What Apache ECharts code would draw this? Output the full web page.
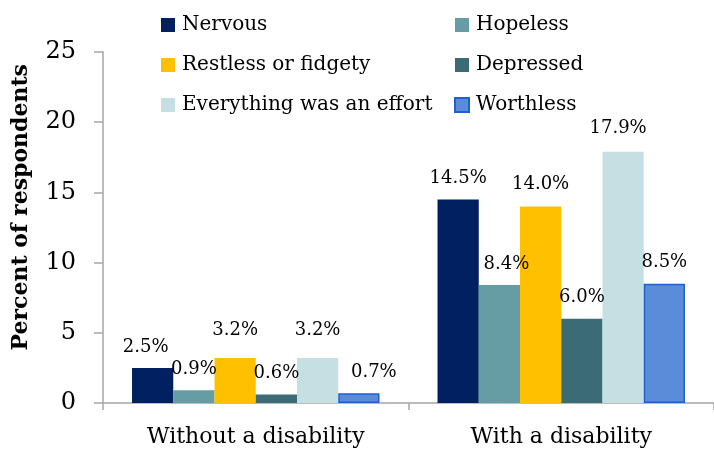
<!DOCTYPE html>
<html>
<head>
<meta charset="utf-8">
<script src="https://cdn.jsdelivr.net/npm/echarts@6/dist/echarts.min.js"></script>
<style>
  html, body { margin: 0; padding: 0; background: #fff; }
  #main { width: 714px; height: 449px; }
</style>
</head>
<body>
<div id="main"></div>
<script>
// 数据
let categories = ['Without a disability', 'With a disability'];
let nervous = [2.5, 14.5];
let hopeless = [0.9, 8.4];
let restless = [3.2, 14.0];
let depressed = [0.6, 6.0];
let effort = [3.2, 17.9];
let worthless = [0.7, 8.5];
let yTicks = [0, 5, 10, 15, 20, 25];

let font = 'DejaVu Serif';

// 每个系列的名称和颜色
let seriesDefs = [
    { name: 'Nervous', data: nervous, color: '#002060' },
    { name: 'Hopeless', data: hopeless, color: '#669ca3' },
    { name: 'Restless or fidgety', data: restless, color: '#ffc000' },
    { name: 'Depressed', data: depressed, color: '#3b6b74' },
    { name: 'Everything was an effort', data: effort, color: '#c6dfe3' },
    { name: 'Worthless', data: worthless, color: '#5b8cd9', border: '#1f5fd0' }
];

// 标签微调（Excel 里标签位置不完全居中）
let labelNudge = {
    'Nervous': [[-7, 0], [0, 0]],
    'Hopeless': [[0, 0], [7, 0]],
    'Restless or fidgety': [[0, -7], [0, -1]],
    'Depressed': [[0, 0], [0, 0]],
    'Everything was an effort': [[0, -7], [-5, -2]],
    'Worthless': [[15, 0], [0, 0]]
};

let myChart = echarts.init(document.getElementById('main'));

let series = seriesDefs.map(function (s) {
    return {
        name: s.name,
        type: 'bar',
        barGap: '0%',
        barCategoryGap: '19%',
        itemStyle: {
            color: s.color,
            borderColor: s.border || s.color,
            borderWidth: s.border ? 1.5 : 0
        },
        label: {
            show: true,
            position: 'top',
            distance: 12,
            color: '#000',
            fontFamily: font,
            fontSize: 18,
            formatter: function (p) { return p.value.toFixed(1) + '%'; }
        },
        data: s.data.map(function (v, i) {
            return { value: v, label: { offset: labelNudge[s.name][i] } };
        })
    };
});

let legendText = { fontFamily: font, fontSize: 20, color: '#000', padding: [0, 0, 0, 2] };

let option = {
    backgroundColor: '#fff',
    animation: false,
    legend: [
        {
            orient: 'vertical',
            left: 156,
            top: 10,
            itemWidth: 14,
            itemHeight: 14,
            itemGap: 20,
            icon: 'rect',
            textStyle: legendText,
            data: ['Nervous', 'Restless or fidgety', 'Everything was an effort']
        },
        {
            orient: 'vertical',
            left: 449,
            top: 10,
            itemWidth: 14,
            itemHeight: 14,
            itemGap: 20,
            icon: 'rect',
            textStyle: legendText,
            data: ['Hopeless', 'Depressed', 'Worthless']
        }
    ],
    grid: {
        left: 103,
        right: -5,
        top: 52,
        bottom: 46
    },
    xAxis: {
        type: 'category',
        data: categories,
        axisLine: { lineStyle: { color: '#a6a6a6', width: 1.5 } },
        axisTick: { show: true, length: 7, lineStyle: { color: '#a6a6a6', width: 1.5 } },
        axisLabel: { margin: 23, color: '#000', fontFamily: font, fontSize: 22 }
    },
    yAxis: {
        type: 'value',
        min: yTicks[0],
        max: yTicks[yTicks.length - 1],
        interval: 5,
        splitLine: { show: false },
        axisLine: { show: true, lineStyle: { color: '#a6a6a6', width: 1.5 } },
        axisTick: { show: true, length: 9, lineStyle: { color: '#a6a6a6', width: 1.5 } },
        axisLabel: { margin: 27, color: '#000', fontFamily: font, fontSize: 24 }
    },
    graphic: [
        {
            type: 'text',
            left: 10,
            top: 64,
            rotation: Math.PI / 2,
            style: {
                text: 'Percent of respondents',
                font: 'bold 22px "' + font + '"',
                fill: '#000'
            }
        }
    ],
    series: series
};
myChart.setOption(option);
</script>
</body>
</html>
